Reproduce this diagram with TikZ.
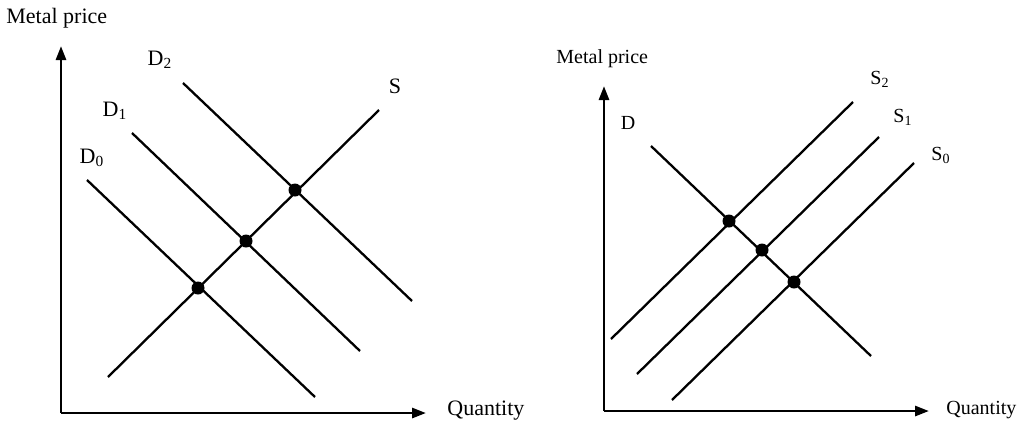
\documentclass[tikz,border=0pt]{standalone}
\usepackage{fontspec}
\setmainfont{Liberation Serif}
\usetikzlibrary{arrows.meta}
\tikzset{
  axis/.style={line width=1.4pt,-{Triangle[length=7pt,width=5pt]}},
  curve/.style={line width=1.15pt},
  eqdot/.style={circle,fill=black,inner sep=0pt,minimum size=6.5pt},
  lbl/.style={font=\fontsize{11}{13}\selectfont,inner sep=0pt},
  smalllbl/.style={font=\fontsize{10}{12}\selectfont,inner sep=0pt}
}
\begin{document}
\begin{tikzpicture}[x=0.5pt,y=-0.5pt]
        \useasboundingbox (0,0) rectangle (1018,424);
        % left panel: demand shifts
        \coordinate (oL) at (61,413);
        \draw[axis] (oL) -- (61,46);
        \draw[axis] (oL) -- (426,413);
        \node[lbl,anchor=west] (pL) at (6,18) {Metal price};
        \node[lbl,anchor=west] (qL) at (447,411) {Quantity};
        \draw[curve] (87,180) -- (315,397);
        \draw[curve] (132,133) -- (360,351);
        \draw[curve] (183,83) -- (412,301);
        \draw[curve] (108,377) -- (379,110);
        \node[lbl] (d0) at (92,158) {D\textsubscript{0}};
        \node[lbl] (d1) at (115,111) {D\textsubscript{1}};
        \node[lbl] (d2) at (160,60) {D\textsubscript{2}};
        \node[lbl] (s) at (395,86) {S};
        \node[eqdot] (e0) at (198,288) {};
        \node[eqdot] (e1) at (246,241) {};
        \node[eqdot] (e2) at (295,190) {};
        % right panel: supply shifts
        \coordinate (oR) at (604,411);
        \draw[axis] (oR) -- (604,86);
        \draw[axis] (oR) -- (929,411);
        \node[smalllbl,anchor=west] (pR) at (556,59) {Metal price};
        \node[smalllbl,anchor=west] (qR) at (946,410) {Quantity};
        \draw[curve] (651,146) -- (871,356);
        \draw[curve] (611,339) -- (853,102);
        \draw[curve] (637,374) -- (879,137);
        \draw[curve] (672,400) -- (914,163);
        \node[smalllbl] (d) at (628,123) {D};
        \node[smalllbl] (s2) at (880,79) {S\textsubscript{2}};
        \node[smalllbl] (s1) at (903,117) {S\textsubscript{1}};
        \node[smalllbl] (s0) at (941,155) {S\textsubscript{0}};
        \node[eqdot] (f2) at (729,221) {};
        \node[eqdot] (f1) at (762,250) {};
        \node[eqdot] (f0) at (794,282) {};
    \end{tikzpicture}
\end{document}
